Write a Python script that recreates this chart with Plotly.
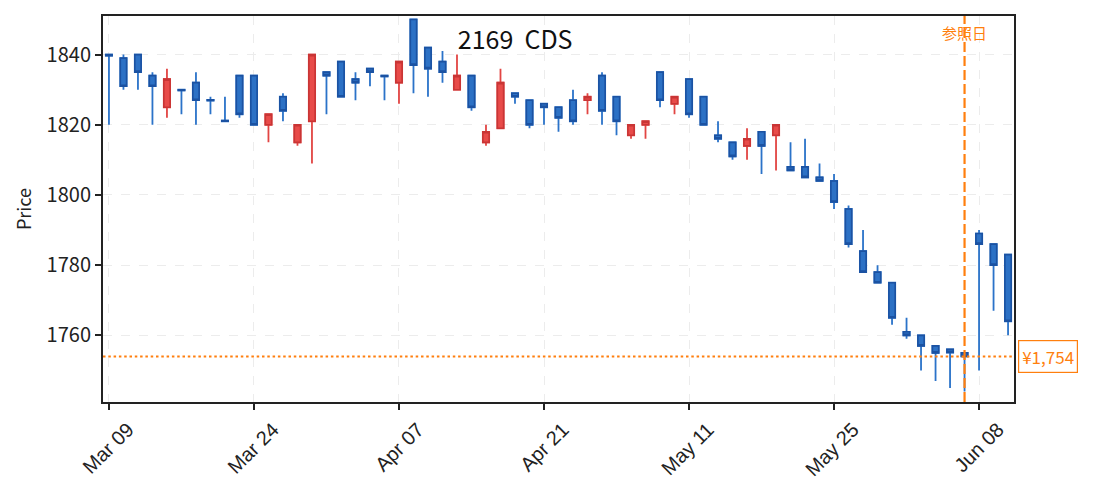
import plotly.graph_objects as go

# trading days (category axis, no gaps)
dates = [
    "2026-03-09", "2026-03-10", "2026-03-11", "2026-03-12", "2026-03-13",
    "2026-03-16", "2026-03-17", "2026-03-18", "2026-03-19", "2026-03-23",
    "2026-03-24", "2026-03-25", "2026-03-26", "2026-03-27", "2026-03-30",
    "2026-03-31", "2026-04-01", "2026-04-02", "2026-04-03", "2026-04-06",
    "2026-04-07", "2026-04-08", "2026-04-09", "2026-04-10", "2026-04-13",
    "2026-04-14", "2026-04-15", "2026-04-16", "2026-04-17", "2026-04-20",
    "2026-04-21", "2026-04-22", "2026-04-23", "2026-04-24", "2026-04-27",
    "2026-04-28", "2026-04-30", "2026-05-01", "2026-05-07", "2026-05-08",
    "2026-05-11", "2026-05-12", "2026-05-13", "2026-05-14", "2026-05-15",
    "2026-05-18", "2026-05-19", "2026-05-20", "2026-05-21", "2026-05-22",
    "2026-05-25", "2026-05-26", "2026-05-27", "2026-05-28", "2026-05-29",
    "2026-06-01", "2026-06-02", "2026-06-03", "2026-06-04", "2026-06-05",
    "2026-06-08", "2026-06-09", "2026-06-10",
]
opens = [
    1840, 1839, 1840, 1834, 1825, 1830, 1832, 1827.1, 1821.2, 1834,
    1834, 1820, 1828, 1815, 1821, 1835, 1838, 1833, 1836, 1834,
    1832, 1850, 1842, 1838, 1830, 1834, 1815, 1819, 1829, 1827,
    1826, 1825, 1827, 1827, 1834, 1828, 1817, 1820, 1835, 1826,
    1833, 1828, 1817, 1815, 1814, 1818, 1817, 1808, 1808, 1805,
    1804, 1796, 1784, 1778, 1775, 1761, 1760, 1757, 1756, 1755,
    1789, 1786, 1783,
]
highs = [
    1840, 1840, 1840, 1835, 1836, 1830, 1835, 1828, 1828, 1834,
    1834, 1823, 1829, 1820, 1840, 1835, 1838, 1835, 1836, 1834,
    1838, 1850, 1842, 1841, 1840, 1834, 1820, 1836, 1829, 1827,
    1826, 1825, 1830, 1829, 1835, 1828, 1820, 1821, 1835, 1828,
    1833, 1828, 1821, 1815, 1819, 1818, 1820, 1815, 1816, 1809,
    1806, 1797, 1790, 1780, 1775, 1765, 1760, 1757, 1756, 1755,
    1790, 1786, 1783,
]
lows = [
    1820, 1830, 1830, 1820, 1822, 1823, 1820, 1823, 1821, 1822,
    1820, 1815, 1821, 1814, 1809, 1823, 1828, 1827, 1831, 1827,
    1826, 1829, 1828, 1832, 1830, 1824, 1814, 1819, 1826, 1819,
    1820, 1818, 1820, 1823, 1820, 1817, 1816, 1816, 1825, 1823,
    1822, 1820, 1815, 1810, 1810, 1806, 1807, 1807, 1805, 1804,
    1796, 1785, 1778, 1775, 1763, 1759, 1750, 1747, 1745, 1744,
    1750, 1767, 1760,
]
closes = [
    1839.7, 1831, 1835, 1831, 1833, 1829.8, 1827, 1826.9, 1821, 1823,
    1820, 1823, 1824, 1820, 1840, 1834, 1828, 1832, 1835, 1833.8,
    1838, 1837, 1836, 1835, 1834, 1825, 1818, 1832, 1828, 1820,
    1825, 1822, 1821, 1828, 1824, 1821, 1820, 1821, 1827, 1828,
    1823, 1820, 1816, 1811, 1816, 1814, 1820, 1807, 1805, 1804,
    1798, 1786, 1778, 1775, 1765, 1760, 1757, 1755, 1755.1, 1754,
    1786, 1780, 1764,
]

tick_idx = [0, 10, 20, 30, 40, 50, 60]
tick_text = ["Mar 09", "Mar 24", "Apr 07", "Apr 21", "May 11", "May 25", "Jun 08"]
ref_date = "2026-06-05"
ref_price = 1754
title_text = "2169\u00a0\u00a0CDS"

BLUE_FILL, BLUE_LINE, BLUE_WICK = "#2c71c5", "#1b52a2", "#2b73c9"
RED_FILL, RED_LINE, RED_WICK = "#e84b49", "#c93535", "#e24543"
ORANGE = "#ff7f0e"
FONT = "Noto Sans CJK JP"

body_hi = [max(o, c) for o, c in zip(opens, closes)]
body_lo = [min(o, c) for o, c in zip(opens, closes)]

fig = go.Figure()
# wicks
fig.add_trace(go.Candlestick(
    x=dates, open=opens, high=highs, low=lows, close=closes,
    increasing=dict(line=dict(color=RED_WICK, width=1.8), fillcolor=RED_FILL),
    decreasing=dict(line=dict(color=BLUE_WICK, width=1.8), fillcolor=BLUE_FILL),
    showlegend=False, hoverinfo="skip",
))
# bodies with darker border
fig.add_trace(go.Candlestick(
    x=dates, open=opens, high=body_hi, low=body_lo, close=closes,
    increasing=dict(line=dict(color=RED_LINE, width=1.6), fillcolor=RED_FILL),
    decreasing=dict(line=dict(color=BLUE_LINE, width=1.6), fillcolor=BLUE_FILL),
    showlegend=False,
))

fig.add_shape(type="line", xref="x", yref="paper", x0=ref_date, x1=ref_date,
              y0=0, y1=1, line=dict(color=ORANGE, width=2.2, dash="10px,4px"))
fig.add_shape(type="line", xref="paper", yref="y", x0=0, x1=1,
              y0=ref_price, y1=ref_price, line=dict(color=ORANGE, width=2, dash="2.5px,2.8px"))

fig.add_annotation(x=ref_date, y=0.958, xref="x", yref="paper", text="参照日",
                   xanchor="center", yanchor="middle",
                   showarrow=False, font=dict(color=ORANGE, size=15, family=FONT))
fig.add_annotation(x=1, y=ref_price, xref="paper", yref="y", xanchor="left", xshift=4,
                   yanchor="middle",
                   text=f"¥{ref_price:,}", showarrow=False,
                   font=dict(color=ORANGE, size=17, family=FONT),
                   bgcolor="white", bordercolor=ORANGE, borderwidth=1.2, borderpad=3)

fig.update_layout(
    width=1093, height=491,
    margin=dict(l=95, r=87, t=6, b=97),
    paper_bgcolor="white", plot_bgcolor="white",
    font=dict(family=FONT, color="#222"),
    boxgap=0.38,
    title=dict(text=title_text, x=0.464, xanchor="center", y=0.935, yanchor="middle",
               font=dict(size=25, color="#111", family=FONT)),
    xaxis=dict(
        type="category", rangeslider=dict(visible=False),
        range=[-0.41, 62.41],
        tickvals=[dates[i] for i in tick_idx], ticktext=tick_text,
        tickangle=-45, tickfont=dict(size=20, family="Liberation Sans"),
        ticklabelshift=19,
        showgrid=True, gridcolor="#ececec", griddash="dash",
        ticks="outside", ticklen=6, tickwidth=1.5, tickcolor="#222",
        showline=True, linecolor="#222", linewidth=2, mirror=True,
    ),
    yaxis=dict(
        range=[1741, 1851], dtick=20,
        title=dict(text="Price", font=dict(size=18), standoff=10),
        tickfont=dict(size=20),
        showgrid=True, gridcolor="#ececec", griddash="dash", zeroline=False,
        ticks="outside", ticklen=6, tickwidth=1.5, tickcolor="#222",
        showline=True, linecolor="#222", linewidth=2, mirror=True,
    ),
)

fig.write_html("out.html")
